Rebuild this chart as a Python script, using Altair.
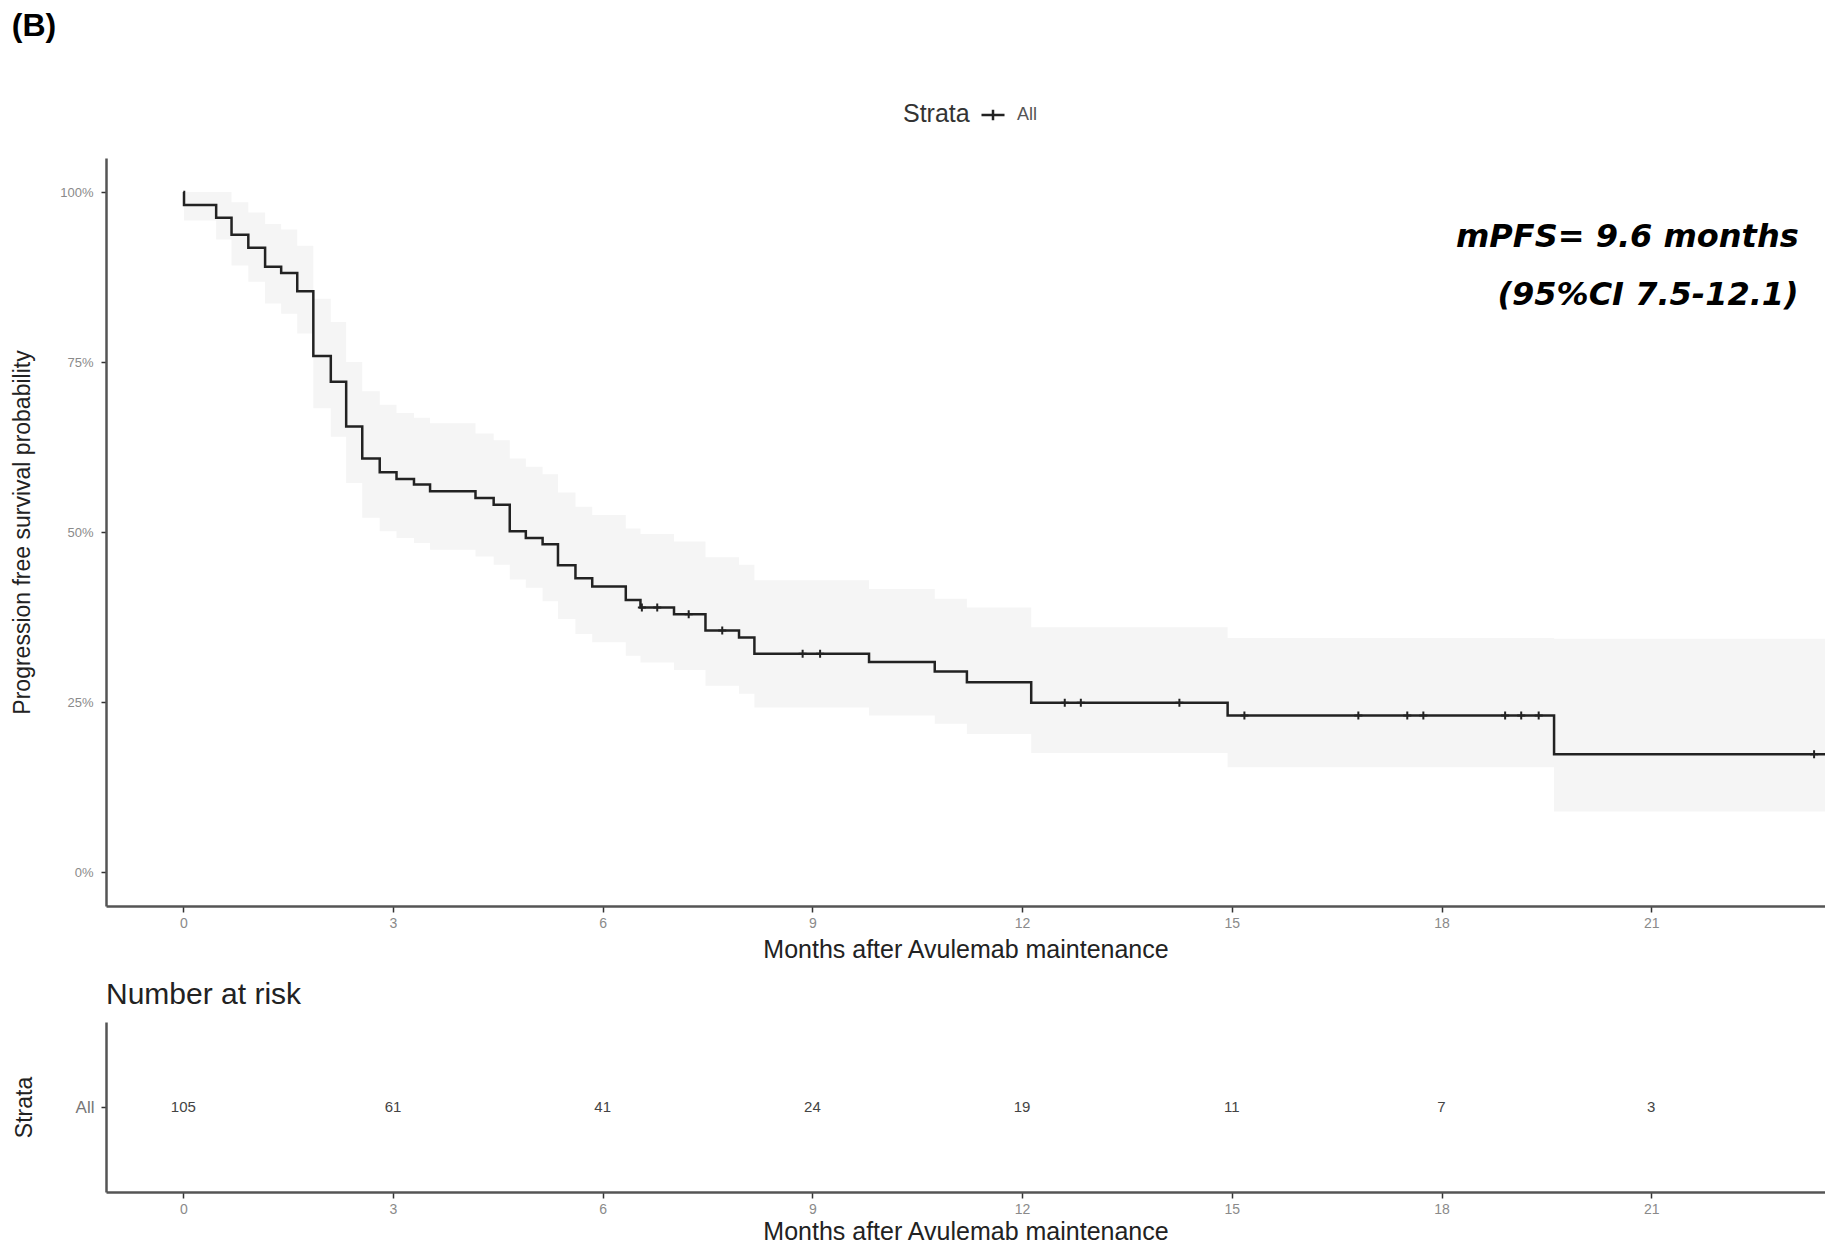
import altair as alt
import pandas as pd

# ---- Kaplan-Meier step curve ----
times = [0.0, 0.01, 0.47, 0.69, 0.93, 1.17, 1.40, 1.63, 1.86, 2.11, 2.33, 2.56, 2.81, 3.05, 3.30, 3.53,
         4.18, 4.44, 4.67, 4.90, 5.14, 5.36, 5.61, 5.85, 6.33, 6.54, 7.02, 7.47, 7.95, 8.17, 9.81,
         10.75, 11.21, 12.13, 14.94, 19.61, 23.8]
surv = [1.000, 0.981, 0.962, 0.937, 0.918, 0.890, 0.881, 0.854, 0.759, 0.721, 0.655, 0.608, 0.588,
        0.578, 0.570, 0.560, 0.550, 0.540, 0.501, 0.491, 0.482, 0.451, 0.432, 0.420, 0.400, 0.389,
        0.379, 0.355, 0.345, 0.321, 0.309, 0.295, 0.279, 0.249, 0.230, 0.173, 0.173]
lower = [1.000, 0.958, 0.930, 0.892, 0.868, 0.836, 0.821, 0.792, 0.682, 0.640, 0.572, 0.521, 0.501,
         0.491, 0.484, 0.474, 0.464, 0.452, 0.430, 0.418, 0.398, 0.372, 0.350, 0.338, 0.318, 0.308,
         0.297, 0.274, 0.262, 0.242, 0.230, 0.218, 0.203, 0.175, 0.154, 0.089, 0.089]
upper = [1.000, 1.000, 1.000, 0.985, 0.970, 0.953, 0.945, 0.921, 0.843, 0.809, 0.750, 0.707, 0.687,
         0.675, 0.668, 0.660, 0.645, 0.635, 0.608, 0.596, 0.585, 0.558, 0.537, 0.525, 0.505, 0.497,
         0.486, 0.463, 0.452, 0.429, 0.416, 0.402, 0.389, 0.360, 0.344, 0.343, 0.343]

# ---- censoring marks ----
censor_times = [6.56, 6.78, 7.23, 7.71, 8.86, 9.11, 12.61, 12.84, 14.25, 15.18, 16.81, 17.51, 17.74,
                18.91, 19.14, 19.39, 23.33]
censor_surv = [0.389, 0.389, 0.379, 0.355, 0.321, 0.321, 0.249, 0.249, 0.249, 0.230, 0.230, 0.230,
               0.230, 0.230, 0.230, 0.230, 0.173]

# ---- number at risk ----
risk_times = [0, 3, 6, 9, 12, 15, 18, 21]
risk_counts = [105, 61, 41, 24, 19, 11, 7, 3]

# ---- annotation ----
ann_text = ["mPFS= 9.6 months", "(95%CI 7.5-12.1)"]
ann_x = [23.11, 23.11]
ann_y = [0.934, 0.849]

x_ticks = [0, 3, 6, 9, 12, 15, 18, 21]
y_ticks = [0, 0.25, 0.5, 0.75, 1.0]
strata = "All"

km = pd.DataFrame({"t": times, "s": surv, "lo": lower, "hi": upper, "strata": [strata] * len(times)})
cens = pd.DataFrame({"t": censor_times, "s": censor_surv})
risk = pd.DataFrame({"t": risk_times, "n": risk_counts, "strata": [strata] * len(risk_times)})
ann = pd.DataFrame({"t": ann_x, "s": ann_y, "label": ann_text})

FONT = "Liberation Sans"
W = 1719
xs = alt.Scale(domain=[-1.106, 23.486], nice=False, zero=False)
ys = alt.Scale(domain=[-0.05, 1.05], nice=False, zero=False)


def x_axis(title_pad):
    return alt.Axis(values=x_ticks, format="d", title="Months after Avulemab maintenance", grid=False,
                    labelColor="#8a8a8a", labelFontSize=14, labelPadding=4, labelFont=FONT,
                    tickColor="#333333", tickSize=6, tickWidth=1.5,
                    domainColor="#555555", domainWidth=2.5,
                    titleFont=FONT, titleFontSize=25, titleFontWeight="normal",
                    titleColor="#222222", titlePadding=title_pad)


y_axis = alt.Axis(values=y_ticks, format=".0%", title="Progression free survival probability",
                  grid=False, labelColor="#8a8a8a", labelFontSize=13, labelPadding=8, labelFont=FONT,
                  tickColor="#333333", tickSize=5, tickWidth=1.5,
                  domainColor="#555555", domainWidth=2.5,
                  titleFont=FONT, titleFontSize=23, titleFontWeight="normal",
                  titleColor="#222222", titlePadding=25)

band = alt.Chart(km).mark_area(interpolate="step-after", color="#f5f5f5", clip=True).encode(
    x=alt.X("t:Q", scale=xs, axis=x_axis(7)),
    y=alt.Y("lo:Q", scale=ys, axis=y_axis),
    y2="hi:Q",
)

line = alt.Chart(km).mark_line(interpolate="step-after", strokeWidth=2.5, clip=True).encode(
    x="t:Q",
    y="s:Q",
    color=alt.Color("strata:N", scale=alt.Scale(domain=[strata], range=["#222222"]),
                    legend=alt.Legend(title="Strata", orient="none", legendX=797, legendY=-56,
                                      direction="horizontal", titleOrient="left",
                                      titleFont=FONT, titleFontSize=25, titleFontWeight="normal",
                                      titleColor="#333333", titlePadding=10,
                                      labelFont=FONT, labelFontSize=18, labelColor="#555555",
                                      labelOffset=11,
                                      symbolType="M-1,0L1,0M0,-0.45L0,0.45", symbolSize=530,
                                      symbolStrokeWidth=2.5)),
)

cross = alt.Chart(cens).mark_point(shape="M0,-1L0,1M-1,0L1,0", size=64, filled=False,
                                   strokeWidth=2, color="#222222", opacity=1, clip=True).encode(
    x="t:Q", y="s:Q")

text = alt.Chart(ann).mark_text(align="right", baseline="middle", font="DejaVu Sans", fontSize=32,
                                fontStyle="italic", fontWeight="bold", color="#000000").encode(
    x="t:Q", y="s:Q", text="label:N")

top = alt.layer(band, line, cross, text).properties(width=W, height=748)

risk_chart = alt.Chart(risk).mark_text(fontSize=15, color="#444444", font=FONT).encode(
    x=alt.X("t:Q", scale=xs, axis=x_axis(3)),
    y=alt.Y("strata:N", axis=alt.Axis(title="Strata", labelColor="#777777", labelFontSize=17,
                                       labelFont=FONT, labelPadding=7,
                                       tickColor="#333333", tickSize=5, tickWidth=1.5,
                                       domainColor="#555555", domainWidth=2.5,
                                       titleFont=FONT, titleFontSize=23, titleFontWeight="normal",
                                       titleColor="#222222", titlePadding=39)),
    text="n:Q",
).properties(width=W, height=170,
             title=alt.TitleParams("Number at risk", anchor="start", frame="group", fontSize=30,
                                   fontWeight="normal", font=FONT, color="#222222", offset=12))

chart = alt.vconcat(top, risk_chart, spacing=18).properties(
    title=alt.TitleParams("(B)", anchor="start", fontSize=32, fontWeight="bold", font=FONT,
                          color="#000000", offset=59),
    padding={"top": 2, "left": 3, "right": 0, "bottom": 0},
).resolve_legend(color="independent").configure_view(strokeOpacity=0)

chart.save("out.html", embed_options={"renderer": "svg", "actions": False})
